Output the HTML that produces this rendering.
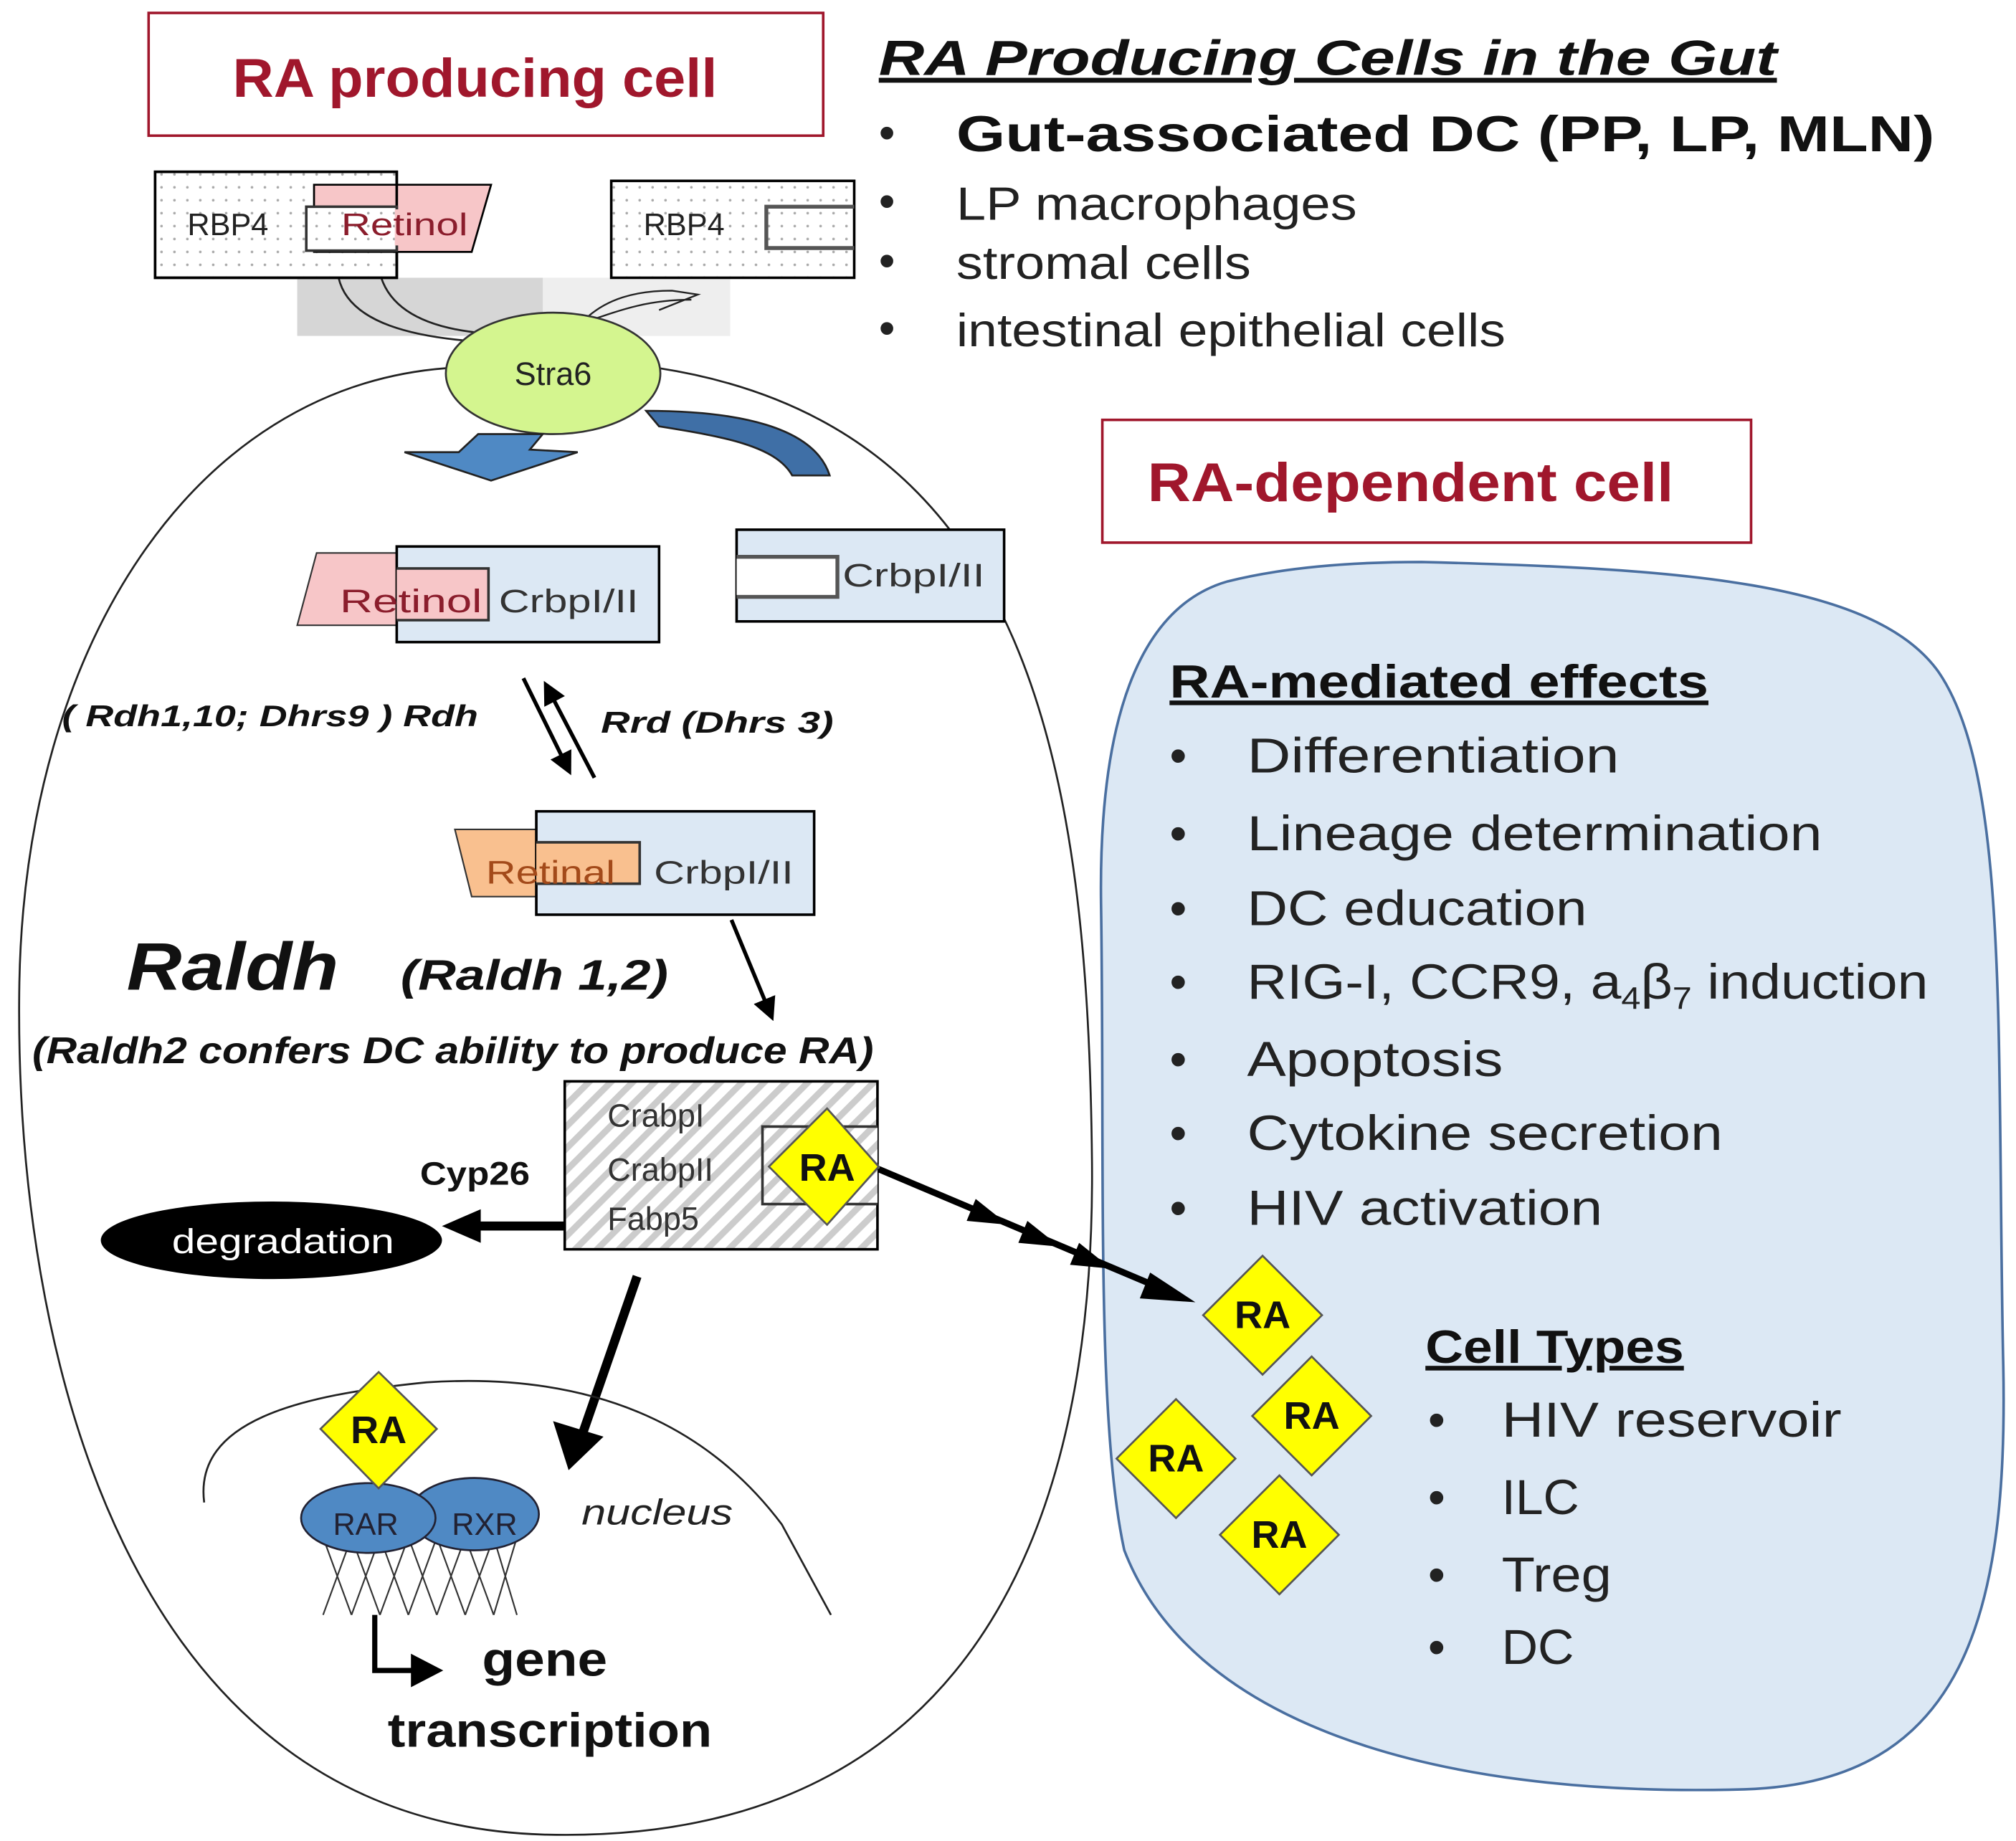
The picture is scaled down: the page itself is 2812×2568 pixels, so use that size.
<!DOCTYPE html>
<html><head><meta charset="utf-8"><style>html,body{margin:0;padding:0;background:#fff}svg{display:block}</style></head>
<body>
<svg width="2812" height="2568" viewBox="0 0 1560 1425" preserveAspectRatio="none" xmlns="http://www.w3.org/2000/svg" font-family="Liberation Sans, DejaVu Sans, sans-serif">
<defs>
<pattern id="dots" width="10" height="10" patternUnits="userSpaceOnUse"><rect width="10" height="10" fill="#fff"/><circle cx="5" cy="5" r="1" fill="#aaa"/></pattern>
<pattern id="hatch" width="12" height="12" patternUnits="userSpaceOnUse" patternTransform="rotate(45)"><rect width="12" height="12" fill="#fff"/><rect width="5" height="12" fill="#ccc"/></pattern>
<marker id="ah" markerWidth="6" markerHeight="6" refX="3" refY="3" orient="auto"><path d="M0,0 L6,3 L0,6 Z" fill="#000"/></marker>
</defs>

<path d="M345,285 C150,300 20,500 15,760 C10,1050 100,1410 420,1420 C700,1428 848,1250 845,900 C842,600 800,330 510,285" fill="none" stroke="#222" stroke-width="1.5"/>
<path d="M950,450 C880,470 850,560 852,700 C855,900 848,1100 870,1200 C920,1330 1100,1392 1350,1385 C1520,1380 1555,1250 1550,1050 C1545,800 1555,600 1500,520 C1450,450 1300,440 1100,435 C1040,435 990,440 950,450 Z" fill="#dce8f4" stroke="#4a6fa0" stroke-width="2"/>

<rect x="115" y="10" width="522" height="95" fill="#fff" stroke="#a0172c" stroke-width="2"/>
<text x="180" y="75" textLength="375" lengthAdjust="spacingAndGlyphs" font-size="42" font-weight="bold" fill="#a0172c">RA producing cell</text>
<rect x="853" y="325" width="502" height="95" fill="#fff" stroke="#a0172c" stroke-width="2"/>
<text x="888" y="388" textLength="407" lengthAdjust="spacingAndGlyphs" font-size="42" font-weight="bold" fill="#a0172c">RA-dependent  cell</text>

<text x="680" y="58" textLength="695" lengthAdjust="spacingAndGlyphs" font-size="38" font-weight="bold" font-style="italic" text-decoration="underline" fill="#111">RA Producing Cells in the Gut</text>
<g font-size="36" fill="#222">
<text x="680" y="115">•</text><text x="740" y="117" textLength="757" lengthAdjust="spacingAndGlyphs" font-weight="bold" font-size="39" fill="#111">Gut-associated DC (PP, LP, MLN)</text>
<text x="680" y="168">•</text><text x="740" y="170" textLength="310" lengthAdjust="spacingAndGlyphs">LP macrophages</text>
<text x="680" y="214">•</text><text x="740" y="216" textLength="228" lengthAdjust="spacingAndGlyphs">stromal cells</text>
<text x="680" y="266">•</text><text x="740" y="268" textLength="425" lengthAdjust="spacingAndGlyphs">intestinal epithelial cells</text>
</g>

<rect x="230" y="215" width="335" height="45" fill="#ccc" opacity="0.8"/>
<rect x="420" y="215" width="145" height="45" fill="#eee"/>
<path d="M262,215 C270,250 320,262 380,265" fill="none" stroke="#222" stroke-width="1.5"/>
<path d="M295,215 C305,245 340,255 375,258" fill="none" stroke="#222" stroke-width="1.5"/>
<path d="M445,252 C480,240 500,232 535,232 M455,245 C470,232 490,225 520,225 L540,228 L510,240" fill="none" stroke="#222" stroke-width="1.3"/>

<rect x="120" y="133" width="187" height="82" fill="url(#dots)" stroke="#000" stroke-width="2"/>
<path d="M243,143 L380,143 L365,195 L243,195 Z" fill="#f7c6c8" stroke="#000" stroke-width="1.5"/>
<rect x="120" y="133" width="187" height="82" fill="none" stroke="#000" stroke-width="2"/>
<rect x="237" y="160" width="70" height="34" fill="url(#dots)" stroke="#333" stroke-width="2"/>
<path d="M307,162 L307,190" stroke="#f7c6c8" stroke-width="3"/>
<text x="145" y="182" font-size="24" fill="#222">RBP4</text>
<text x="264" y="182" textLength="98" lengthAdjust="spacingAndGlyphs" font-size="24" fill="#8b1d2c">Retinol</text>
<path d="M307,195 L307,215" stroke="#000" stroke-width="2"/>

<rect x="473" y="140" width="188" height="75" fill="url(#dots)" stroke="#000" stroke-width="2"/>
<path d="M661,160 L593,160 L593,192 L661,192" fill="none" stroke="#555" stroke-width="3"/>
<text x="498" y="182" font-size="24" fill="#222">RBP4</text>

<ellipse cx="428" cy="289" rx="83" ry="47" fill="#d4f58f" stroke="#333" stroke-width="1.5"/>
<text x="428" y="298" text-anchor="middle" font-size="25" fill="#222">Stra6</text>

<path d="M370,336 L355,350 L313,350 L380,372 L447,350 L410,348 L420,336 Z" fill="#4f89c4" stroke="#222" stroke-width="1.5"/>
<path d="M500,318 C570,318 630,330 642,368 L613,368 C600,345 560,338 510,330 Z" fill="#3f6fa6" stroke="#222" stroke-width="1.5"/>

<path d="M245,428 L310,428 L310,484 L230,484 Z" fill="#f7c6c8" stroke="#333" stroke-width="1.2"/>
<rect x="307" y="423" width="203" height="74" fill="#dce8f4" stroke="#000" stroke-width="2"/>
<path d="M307,440 L378,440 L378,480 L307,480" fill="#f7c6c8" stroke="#333" stroke-width="2"/>
<text x="263" y="474" textLength="110" lengthAdjust="spacingAndGlyphs" font-size="25" fill="#8b1d2c">Retinol</text>
<text x="386" y="474" textLength="108" lengthAdjust="spacingAndGlyphs" font-size="25" fill="#333">CrbpI/II</text>

<rect x="570" y="410" width="207" height="71" fill="#dce8f4" stroke="#000" stroke-width="2"/>
<path d="M570,431 L648,431 L648,462 L570,462" fill="#fff" stroke="#555" stroke-width="3"/>
<text x="652" y="454" textLength="110" lengthAdjust="spacingAndGlyphs" font-size="25" fill="#333">CrbpI/II</text>

<g font-size="23" font-weight="bold" font-style="italic" fill="#111">
<text x="48" y="562" textLength="322" lengthAdjust="spacingAndGlyphs">( Rdh1,10; Dhrs9 )  Rdh</text>
<text x="465" y="567" textLength="180" lengthAdjust="spacingAndGlyphs">Rrd  (Dhrs 3)</text>
</g>
<path d="M405,525 L438,592" stroke="#000" stroke-width="3" marker-end="url(#ah)"/>
<path d="M460,602 L425,535" stroke="#000" stroke-width="3" marker-end="url(#ah)"/>

<path d="M352,642 L420,642 L420,694 L365,694 Z" fill="#f9c08f" stroke="#333" stroke-width="1.2"/>
<rect x="415" y="628" width="215" height="80" fill="#dce8f4" stroke="#000" stroke-width="2"/>
<path d="M415,652 L495,652 L495,684 L415,684" fill="#f9c08f" stroke="#333" stroke-width="2"/>
<text x="376" y="684" textLength="100" lengthAdjust="spacingAndGlyphs" font-size="25" fill="#a34a1a">Retinal</text>
<text x="506" y="684" textLength="108" lengthAdjust="spacingAndGlyphs" font-size="25" fill="#333">CrbpI/II</text>
<path d="M566,712 L595,782" stroke="#000" stroke-width="3" marker-end="url(#ah)"/>

<text x="98" y="766" textLength="164" lengthAdjust="spacingAndGlyphs" font-size="52" font-weight="bold" font-style="italic" fill="#111">Raldh</text>
<text x="310" y="766" textLength="207" lengthAdjust="spacingAndGlyphs" font-size="33" font-weight="bold" font-style="italic" fill="#111">(Raldh 1,2)</text>
<text x="25" y="823" textLength="651" lengthAdjust="spacingAndGlyphs" font-size="29" font-weight="bold" font-style="italic" fill="#111">(Raldh2 confers DC ability to produce RA)</text>

<rect x="437" y="837" width="242" height="130" fill="url(#hatch)" stroke="#000" stroke-width="2"/>
<path d="M679,872 L590,872 L590,932 L679,932" fill="url(#hatch)" stroke="#333" stroke-width="2"/>
<g font-size="25" fill="#333"><text x="470" y="872">CrabpI</text><text x="470" y="914">CrabpII</text><text x="470" y="952">Fabp5</text></g>
<path d="M640,858 L680,903 L640,948 L595,903 Z" fill="#ffff00" stroke="#555" stroke-width="1.5"/>
<text x="640" y="914" text-anchor="middle" font-size="30" font-weight="bold" fill="#111">RA</text>

<text x="325" y="917" textLength="85" lengthAdjust="spacingAndGlyphs" font-size="25" font-weight="bold" fill="#111">Cyp26</text>
<path d="M437,949 L365,949" stroke="#000" stroke-width="7"/>
<path d="M342,949 L372,936 L372,962 Z" fill="#000"/>
<ellipse cx="210" cy="960" rx="132" ry="30" fill="#000"/>
<text x="133" y="970" textLength="172" lengthAdjust="spacingAndGlyphs" font-size="27" fill="#fff">degradation</text>

<path d="M680,905 L905,1000" stroke="#000" stroke-width="5"/>
<path d="M925,1008 L890,985 L882,1005 Z" fill="#000"/>
<g fill="#000"><path d="M780,948 L755,928 L748,945Z"/><path d="M820,965 L795,945 L788,962Z"/><path d="M860,982 L835,962 L828,979Z"/></g>

<path d="M493,988 L450,1112" stroke="#000" stroke-width="7"/>
<path d="M440,1138 L428,1100 L467,1112 Z" fill="#000"/>

<path d="M158,1163 C150,1100 230,1080 330,1070 C480,1060 560,1120 605,1180 L643,1250" fill="none" stroke="#222" stroke-width="1.5"/>
<text x="450" y="1180" textLength="117" lengthAdjust="spacingAndGlyphs" font-size="28" font-style="italic" fill="#222">nucleus</text>
<path d="M250,1190 L272,1250 M272,1190 L250,1250 M272,1190 L294,1250 M294,1190 L272,1250 M294,1190 L316,1250 M316,1190 L294,1250 M316,1190 L338,1250 M338,1190 L316,1250 M338,1190 L360,1250 M360,1190 L338,1250 M360,1190 L382,1250 M382,1190 L360,1250 M382,1190 L400,1250 M400,1190 L382,1250" fill="none" stroke="#333" stroke-width="1.2"/>
<ellipse cx="367" cy="1172" rx="50" ry="28" fill="#4f89c4" stroke="#223" stroke-width="1.5"/>
<ellipse cx="285" cy="1175" rx="52" ry="27" fill="#4f89c4" stroke="#223" stroke-width="1.5"/>
<text x="283" y="1188" text-anchor="middle" font-size="24" fill="#223">RAR</text>
<text x="375" y="1188" text-anchor="middle" font-size="24" fill="#223">RXR</text>
<path d="M293,1062 L338,1106 L293,1152 L248,1106 Z" fill="#ffff00" stroke="#555" stroke-width="1.5"/>
<text x="293" y="1117" text-anchor="middle" font-size="30" font-weight="bold" fill="#111">RA</text>
<path d="M290,1250 L290,1293 L320,1293" fill="none" stroke="#000" stroke-width="4"/>
<path d="M343,1293 L318,1280 L318,1306 Z" fill="#000"/>
<text x="373" y="1297" textLength="97" lengthAdjust="spacingAndGlyphs" font-size="37" font-weight="bold" fill="#111">gene</text>
<text x="300" y="1352" textLength="251" lengthAdjust="spacingAndGlyphs" font-size="37" font-weight="bold" fill="#111">transcription</text>

<text x="905" y="540" textLength="417" lengthAdjust="spacingAndGlyphs" font-size="36" font-weight="bold" text-decoration="underline" fill="#111">RA-mediated effects</text>
<g font-size="38" fill="#222">
<text x="905" y="598">•</text><text x="965" y="598" textLength="288" lengthAdjust="spacingAndGlyphs">Differentiation</text>
<text x="905" y="658">•</text><text x="965" y="658" textLength="445" lengthAdjust="spacingAndGlyphs">Lineage determination</text>
<text x="905" y="716">•</text><text x="965" y="716" textLength="263" lengthAdjust="spacingAndGlyphs">DC education</text>
<text x="905" y="773">•</text><text x="965" y="773" textLength="527" lengthAdjust="spacingAndGlyphs">RIG-I, CCR9, a<tspan font-size="24" dy="8">4</tspan><tspan dy="-8">β</tspan><tspan font-size="24" dy="8">7</tspan><tspan dy="-8"> induction</tspan></text>
<text x="905" y="833">•</text><text x="965" y="833" textLength="198" lengthAdjust="spacingAndGlyphs">Apoptosis</text>
<text x="905" y="890">•</text><text x="965" y="890" textLength="368" lengthAdjust="spacingAndGlyphs">Cytokine secretion</text>
<text x="905" y="948">•</text><text x="965" y="948" textLength="275" lengthAdjust="spacingAndGlyphs">HIV activation</text>
</g>
<text x="1103" y="1055" textLength="200" lengthAdjust="spacingAndGlyphs" font-size="36" font-weight="bold" text-decoration="underline" fill="#111">Cell Types</text>
<g font-size="38" fill="#222">
<text x="1105" y="1112">•</text><text x="1162" y="1112" textLength="263" lengthAdjust="spacingAndGlyphs">HIV reservoir</text>
<text x="1105" y="1172">•</text><text x="1162" y="1172" textLength="60" lengthAdjust="spacingAndGlyphs">ILC</text>
<text x="1105" y="1232">•</text><text x="1162" y="1232" textLength="85" lengthAdjust="spacingAndGlyphs">Treg</text>
<text x="1105" y="1288">•</text><text x="1162" y="1288" textLength="56" lengthAdjust="spacingAndGlyphs">DC</text>
</g>
<g font-size="30" font-weight="bold" fill="#111" text-anchor="middle">
<path d="M977,972 L1023,1018 L977,1064 L931,1018 Z" fill="#ffff00" stroke="#555" stroke-width="1.5"/><text x="977" y="1028">RA</text>
<path d="M1015,1050 L1061,1096 L1015,1142 L969,1096 Z" fill="#ffff00" stroke="#555" stroke-width="1.5"/><text x="1015" y="1106">RA</text>
<path d="M910,1083 L956,1129 L910,1175 L864,1129 Z" fill="#ffff00" stroke="#555" stroke-width="1.5"/><text x="910" y="1139">RA</text>
<path d="M990,1142 L1036,1188 L990,1234 L944,1188 Z" fill="#ffff00" stroke="#555" stroke-width="1.5"/><text x="990" y="1198">RA</text>
</g>
</svg>
</body></html>
